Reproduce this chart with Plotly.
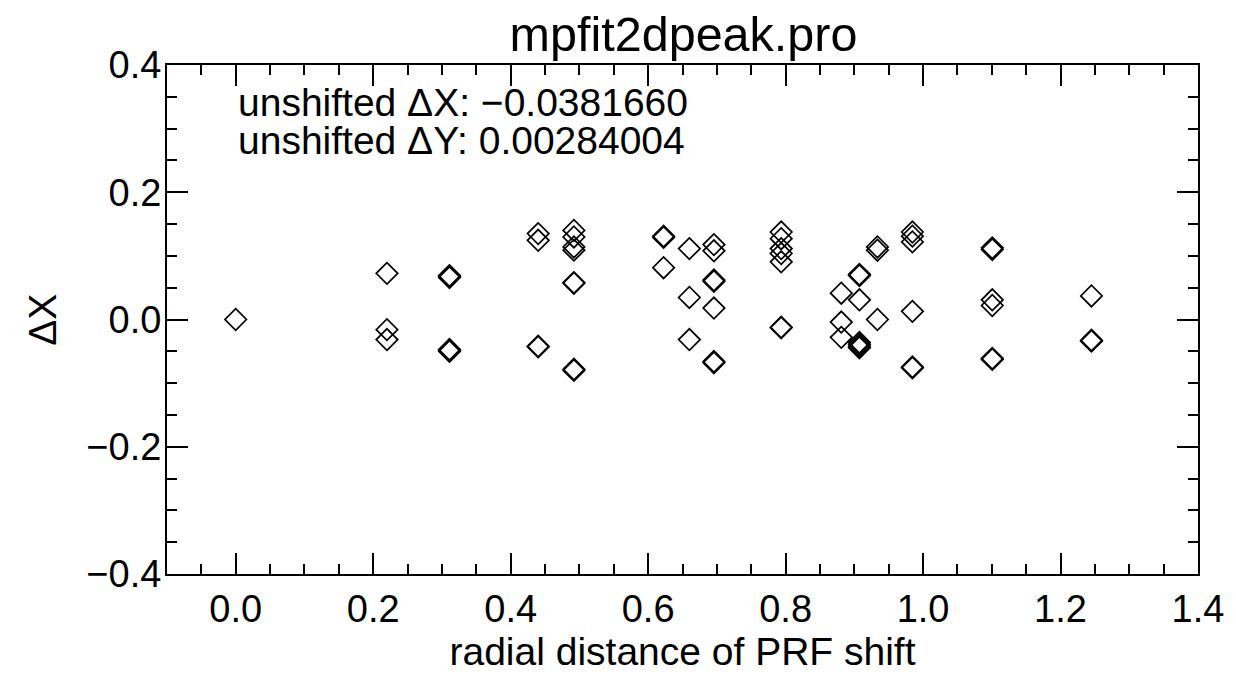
import plotly.graph_objects as go

# radial distance of PRF shift (x) and Delta X (y)
x_groups = [0.0, 0.220, 0.311, 0.440, 0.492, 0.6225, 0.660, 0.6957, 0.7936,
            0.881, 0.9074, 0.9336, 0.9845, 1.1007, 1.245]
y_groups = [
    [0.0],
    [0.0725, -0.016, -0.0315],
    [0.0673, 0.0690, 0.0660, -0.0486, -0.0500, -0.0470],
    [0.135, 0.1245, -0.042, -0.043],
    [0.140, 0.1297, 0.114, 0.109, 0.057, 0.058, -0.080, -0.078],
    [0.131, 0.129, 0.0814],
    [0.1115, 0.0346, -0.0315],
    [0.1177, 0.108, 0.062, 0.060, 0.018, -0.068, -0.066],
    [0.1375, 0.127, 0.1115, 0.1037, 0.0907, -0.012, -0.013],
    [0.0413, -0.004, -0.028],
    [0.071, 0.069, 0.031, -0.036, -0.039, -0.042, -0.0444],
    [0.114, 0.1089, 0.0],
    [0.1375, 0.131, 0.122, 0.0128, -0.0746, -0.076],
    [0.1126, 0.110, 0.031, 0.022, -0.0627, -0.061],
    [0.037, -0.0325, -0.034],
]

x_ticks = [0.0, 0.2, 0.4, 0.6, 0.8, 1.0, 1.2, 1.4]
x_ticktext = ["0.0", "0.2", "0.4", "0.6", "0.8", "1.0", "1.2", "1.4"]
y_ticks = [-0.4, -0.2, 0.0, 0.2, 0.4]
y_ticktext = ["\u22120.4", "\u22120.2", "0.0", "0.2", "0.4"]

title_text = "mpfit2dpeak.pro"
x_title = "radial distance of PRF shift"
y_title = "\u0394X"
note_lines = ["unshifted \u0394X: \u22120.0381660", "unshifted \u0394Y: 0.00284004"]

xs, ys = [], []
for xv, yl in zip(x_groups, y_groups):
    for yv in yl:
        xs.append(xv)
        ys.append(yv)

FONT = "Liberation Sans, Arial, Helvetica, sans-serif"
FS_TICK = 38
FS_TEXT = 39

fig = go.Figure()
fig.add_trace(go.Scatter(
    x=xs, y=ys, mode="markers",
    marker=dict(symbol="diamond-open", size=16.5, color="black",
                line=dict(color="black", width=1.7)),
    showlegend=False, hoverinfo="skip",
))

axis_common = dict(
    showgrid=False, zeroline=False, showline=True, linecolor="black",
    linewidth=2, mirror="allticks", ticks="inside", ticklen=21,
    tickwidth=2, tickcolor="black",
    tickfont=dict(family=FONT, size=FS_TICK, color="black"),
)

fig.update_xaxes(
    range=[-0.1, 1.4], tickmode="array", tickvals=x_ticks, ticktext=x_ticktext,
    minor=dict(dtick=0.05, ticks="inside", ticklen=10, tickwidth=2,
               tickcolor="black", tick0=0),
    title=dict(text=x_title, font=dict(family=FONT, size=FS_TEXT, color="black"),
               standoff=8),
    **axis_common,
)
fig.update_yaxes(
    range=[-0.4, 0.4], tickmode="array", tickvals=y_ticks, ticktext=y_ticktext,
    minor=dict(dtick=0.05, ticks="inside", ticklen=10, tickwidth=2,
               tickcolor="black", tick0=0),
    ticklabelstandoff=-4,
    **axis_common,
)

# y-axis title placed as a rotated annotation in paper coordinates
fig.add_annotation(x=-0.121, y=0.5, xref="paper", yref="paper", text=y_title,
                   showarrow=False, xanchor="center", yanchor="middle",
                   textangle=-90,
                   font=dict(family=FONT, size=FS_TEXT, color="black"))

fig.add_annotation(x=0.0, y=0.341, xref="x", yref="y", text=note_lines[0],
                   showarrow=False, xanchor="left", yanchor="middle",
                   font=dict(family=FONT, size=FS_TEXT, color="black"))
fig.add_annotation(x=0.0, y=0.281, xref="x", yref="y", text=note_lines[1],
                   showarrow=False, xanchor="left", yanchor="middle",
                   font=dict(family=FONT, size=FS_TEXT, color="black"))

fig.update_layout(
    width=1236, height=677,
    margin=dict(l=167, r=36, t=65, b=99),
    paper_bgcolor="white", plot_bgcolor="white",
    title=dict(text=title_text, x=0.553, xanchor="center", y=0.95,
               yref="container", yanchor="middle",
               font=dict(family=FONT, size=48.5, color="black")),
)

fig.write_html("out.html")
